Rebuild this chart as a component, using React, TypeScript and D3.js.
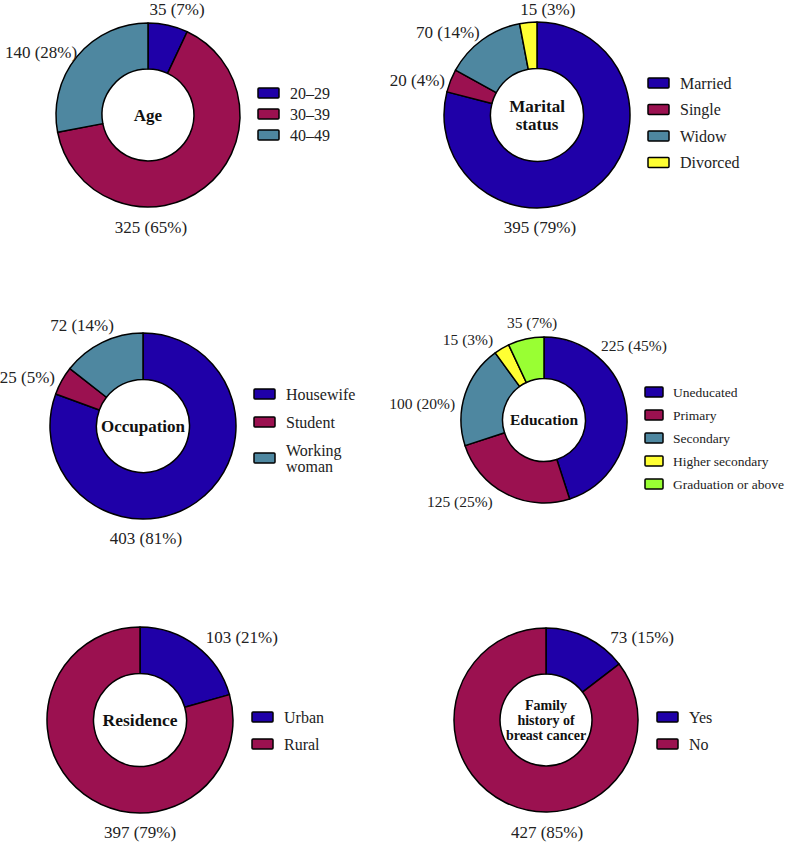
import { useEffect, useRef } from 'react';
import * as d3 from 'd3';

// chart data
const ageCategories = ['20–29', '30–39', '40–49'];
const ageValues = [35, 325, 140];
const ageLabels = ['35 (7%)', '325 (65%)', '140 (28%)'];

const maritalCategories = ['Married', 'Single', 'Widow', 'Divorced'];
const maritalValues = [395, 20, 70, 15];
const maritalLabels = ['395 (79%)', '20 (4%)', '70 (14%)', '15 (3%)'];

const occupationCategories = ['Housewife', 'Student', 'Working\nwoman'];
const occupationValues = [403, 25, 72];
const occupationLabels = ['403 (81%)', '25 (5%)', '72 (14%)'];

const educationCategories = ['Uneducated', 'Primary', 'Secondary', 'Higher secondary', 'Graduation or above'];
const educationValues = [225, 125, 100, 15, 35];
const educationLabels = ['225 (45%)', '125 (25%)', '100 (20%)', '15 (3%)', '35 (7%)'];

const residenceCategories = ['Urban', 'Rural'];
const residenceValues = [103, 397];
const residenceLabels = ['103 (21%)', '397 (79%)'];

const familyCategories = ['Yes', 'No'];
const familyValues = [73, 427];
const familyLabels = ['73 (15%)', '427 (85%)'];

const palette = ['#1f00a8', '#9b1150', '#4e87a0', '#ffff33', '#99ff33'];

interface ChartSpec {
	title: string[];
	categories: string[];
	values: number[];
	labels: string[];
	// layout
	cx: number;
	cy: number;
	r: number;
	labelPos: [number, number][]; // [angle deg, distance in radii]
	legendX: number;
	legendY: number;
	legendStep: number;
	swatchW: number;
	textGap: number;
	font: number;
	titleFont: number;
	legendFont: number;
}

const charts: ChartSpec[] = [
	{
		title: ['Age'], categories: ageCategories, values: ageValues, labels: ageLabels,
		cx: 148, cy: 115, r: 92,
		labelPos: [[15.4, 1.19], [178.5, 1.22], [300.5, 1.35]],
		legendX: 258, legendY: 93, legendStep: 21, swatchW: 21, textGap: 11,
		font: 17, titleFont: 17, legendFont: 16,
	},
	{
		title: ['Marital', 'status'], categories: maritalCategories, values: maritalValues, labels: maritalLabels,
		cx: 537, cy: 115, r: 93,
		labelPos: [[178.5, 1.2], [286.3, 1.34], [313, 1.31], [5.8, 1.15]],
		legendX: 648, legendY: 83, legendStep: 26.5, swatchW: 21, textGap: 11,
		font: 17, titleFont: 17, legendFont: 16,
	},
	{
		title: ['Occupation'], categories: occupationCategories, values: occupationValues, labels: occupationLabels,
		cx: 143, cy: 426, r: 93,
		labelPos: [[178.5, 1.2], [292.9, 1.35], [328.9, 1.27]],
		legendX: 254, legendY: 394, legendStep: 28, swatchW: 21, textGap: 11,
		font: 17, titleFont: 17, legendFont: 16,
	},
	{
		title: ['Education'], categories: educationCategories, values: educationValues, labels: educationLabels,
		cx: 544, cy: 420, r: 83,
		labelPos: [[50.2, 1.41], [226, 1.41], [277.5, 1.48], [316.5, 1.33], [353, 1.18]],
		legendX: 645, legendY: 392, legendStep: 23, swatchW: 18, textGap: 10,
		font: 15.5, titleFont: 15.5, legendFont: 13.5,
	},
	{
		title: ['Residence'], categories: residenceCategories, values: residenceValues, labels: residenceLabels,
		cx: 140, cy: 720, r: 93,
		labelPos: [[50.9, 1.41], [180, 1.2]],
		legendX: 252, legendY: 717, legendStep: 27, swatchW: 21, textGap: 11,
		font: 17, titleFont: 17.5, legendFont: 16,
	},
	{
		title: ['Family', 'history of', 'breast cancer'], categories: familyCategories, values: familyValues, labels: familyLabels,
		cx: 546, cy: 720, r: 92,
		labelPos: [[49.2, 1.38], [179.5, 1.22]],
		legendX: 657, legendY: 717, legendStep: 27, swatchW: 21, textGap: 11,
		font: 17, titleFont: 14, legendFont: 16,
	},
];

const FONT = '"Liberation Serif", "Times New Roman", serif';

export default function App() {
	const svgRef = useRef<SVGSVGElement>(null);

	useEffect(() => {
		if (!svgRef.current) return;
		const svg = d3.select(svgRef.current);
		svg.selectAll('*').remove();

		charts.forEach((c) => {
			const g = svg.append('g').attr('transform', `translate(${c.cx},${c.cy})`);

			const pie = d3.pie<number>().sort(null).value((d) => d);
			const arcs = pie(c.values);
			const arc = d3.arc<d3.PieArcDatum<number>>().innerRadius(c.r * 0.5).outerRadius(c.r);

			g.selectAll('path.slice')
				.data(arcs)
				.enter()
				.append('path')
				.attr('class', 'slice')
				.attr('d', arc)
				.attr('fill', (_, i) => palette[i])
				.attr('stroke', '#000')
				.attr('stroke-width', 1.5)
				.attr('stroke-linejoin', 'round');

			// value labels
			arcs.forEach((_, i) => {
				const [ang, dist] = c.labelPos[i];
				const [x, y] = d3.pointRadial((ang * Math.PI) / 180, dist * c.r);
				g.append('text')
					.attr('x', x)
					.attr('y', y)
					.attr('dy', '0.35em')
					.attr('text-anchor', 'middle')
					.style('font-family', FONT)
					.style('font-size', `${c.font}px`)
					.attr('fill', '#222')
					.text(c.labels[i]);
			});

			// center title
			const lh = c.titleFont * 1.1;
			c.title.forEach((line, k) => {
				g.append('text')
					.attr('x', 0)
					.attr('y', (k - (c.title.length - 1) / 2) * lh)
					.attr('dy', '0.35em')
					.attr('text-anchor', 'middle')
					.style('font-family', FONT)
					.style('font-size', `${c.titleFont}px`)
					.style('font-weight', 'bold')
					.attr('fill', '#111')
					.text(line);
			});

			// legend
			const legend = svg.append('g');
			let y = c.legendY;
			c.categories.forEach((cat, i) => {
				const lines = cat.split('\n');
				const llh = c.legendFont;
				const extra = ((lines.length - 1) * llh) / 2;
				const rowY = y + extra;
				legend
					.append('rect')
					.attr('x', c.legendX)
					.attr('y', rowY - 5)
					.attr('width', c.swatchW)
					.attr('height', 10)
					.attr('rx', 1)
					.attr('fill', palette[i])
					.attr('stroke', '#000')
					.attr('stroke-width', 1.5);
				lines.forEach((ln, k) => {
					legend
						.append('text')
						.attr('x', c.legendX + c.swatchW + c.textGap)
						.attr('y', rowY + (k - (lines.length - 1) / 2) * llh)
						.attr('dy', '0.35em')
						.style('font-family', FONT)
						.style('font-size', `${c.legendFont}px`)
						.attr('fill', '#222')
						.text(ln);
				});
				y += c.legendStep + extra * 2;
			});
		});
	}, []);

	return (
		<svg
			ref={svgRef}
			width={787}
			height={842}
			style={{ position: 'absolute', left: 0, top: 0, background: '#fff' }}
		></svg>
	);
}
